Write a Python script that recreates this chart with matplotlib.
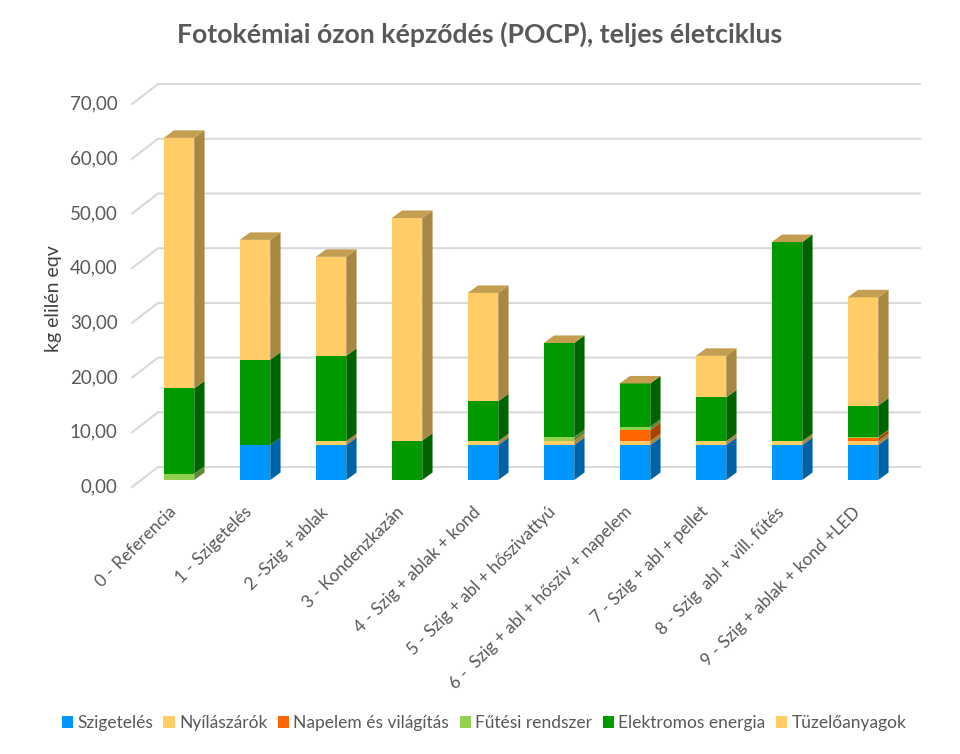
#!/usr/bin/env python3
"""Fotokemiai ozon kepzodes - stacked pseudo-3D column chart."""
import matplotlib
matplotlib.use("Agg")
import matplotlib.pyplot as plt
from matplotlib.patches import Patch
from matplotlib.transforms import ScaledTranslation
import numpy as np

plt.rcParams["font.family"] = ["Lato", "DejaVu Sans"]

categories = ["0 - Referencia", "1 - Szigetelés", "2 -Szig + ablak", "3 - Kondenzkazán",
              "4 - Szig + ablak + kond", "5 - Szig + abl + hőszivattyú",
              "6 -  Szig + abl + hősziv + napelem", "7 - Szig + abl + pellet",
              "8 - Szig  abl + vill. fűtés", "9 - Szig + ablak + kond +LED"]
szigeteles = [0, 6.4, 6.4, 0, 6.4, 6.4, 6.4, 6.4, 6.4, 6.4]
nyilaszarok = [0, 0, 0.7, 0, 0.7, 0.7, 0.7, 0.7, 0.7, 0.7]
napelem = [0, 0, 0, 0, 0, 0, 2.0, 0, 0, 0.6]
futes = [1.15, 0, 0, 0, 0, 0.75, 0.65, 0, 0, 0.1]
elektromos = [15.6, 15.6, 15.6, 7.2, 7.3, 17.2, 7.9, 8.0, 36.4, 5.8]
tuzelo = [45.8, 21.9, 18.1, 40.7, 19.8, 0, 0, 7.6, 0, 19.8]
yticks = [0, 10, 20, 30, 40, 50, 60, 70]

series = [("Szigetelés", szigeteles, "#0096FF"),
          ("Nyílászárók", nyilaszarok, "#FFCC66"),
          ("Napelem és világítás", napelem, "#FF6600"),
          ("Fűtési rendszer", futes, "#92D050"),
          ("Elektromos energia", elektromos, "#009900"),
          ("Tüzelőanyagok", tuzelo, "#FFCC66")]

GREY = "#595959"
TOP_COLOR = "#C49E50"
W, H = 960, 754
PX_X, PX_Y = 76.0, 5.47   # pixels per category / per value unit


def shade(color, k):
    r, g, b = matplotlib.colors.to_rgb(color)
    return (r * k, g * k, b * k)


fig = plt.figure(figsize=(W / 100, H / 100), dpi=100)
left, right, top, bottom = 130, 925, 80, 490
ax = fig.add_axes([left / W, 1 - bottom / H, (right - left) / W, (bottom - top) / H])
ax.set_xlim((left - 179) / PX_X, (right - 179) / PX_X)
ax.set_ylim((480 - bottom) / PX_Y, (480 - top) / PX_Y)
for s in ax.spines.values():
    s.set_visible(False)

# walls: gridlines on the back plane, short diagonal on the floor side
wall_x0, wall_x1, wall_x2 = (132 - 179) / PX_X, (158 - 179) / PX_X, (920 - 179) / PX_X
front, back = -7 / PX_Y, 13 / PX_Y
for v in yticks:
    ax.plot([wall_x0, wall_x1, wall_x2], [v + front, v + back, v + back],
            color="#D9D9D9", lw=1.5, zorder=1, solid_joinstyle="miter")

# bars, with side and top faces
width = 30.5 / PX_X
dx, dy = 10.3 / PX_X, 7.5 / PX_Y
x = np.arange(len(categories))
base = np.zeros(len(categories))
for name, vals, color in series:
    vals = np.array(vals, dtype=float)
    ax.bar(x, vals, width, bottom=base, color=color, zorder=3, linewidth=0)
    for xi, b, v in zip(x, base, vals):
        if v <= 0:
            continue
        xr = xi + width / 2
        ax.fill([xr, xr + dx, xr + dx, xr], [b, b + dy, b + v + dy, b + v],
                color=shade(color, 0.66), lw=0, zorder=3)
    base = base + vals
for xi, t in zip(x, base):
    xl, xr = xi - width / 2, xi + width / 2
    ax.fill([xl, xr, xr + dx, xl + dx], [t, t, t + dy, t + dy],
            color=TOP_COLOR, lw=0, zorder=3)

ax.set_yticks([v + front + 1.5 / PX_Y for v in yticks])
ax.set_yticklabels([f"{v:.2f}".replace(".", ",") for v in yticks],
                   fontsize=13.5, color=GREY)
ax.tick_params(axis="y", length=0, pad=9)
ax.set_xticks(x)
ax.set_xticklabels(categories, rotation=45, ha="right", rotation_mode="anchor",
                   fontsize=12.4, color=GREY)
ax.tick_params(axis="x", length=0, pad=10)
shift = ScaledTranslation(-11 / 100, 0, fig.dpi_scale_trans)
for lab in ax.get_xticklabels():
    lab.set_transform(lab.get_transform() + shift)

fig.text(54 / W, 1 - 299 / H, "kg elilén eqv", rotation=90, fontsize=14,
         color="#404040", ha="center", va="center")
fig.text(480 / W, 1 - 34 / H, "Fotokémiai ózon képződés (POCP), teljes életciklus",
         fontsize=19.2, fontweight="bold", color=GREY, ha="center", va="center")

handles = [Patch(facecolor=c, label=n) for n, _, c in series]
fig.legend(handles=handles, ncols=6, loc="center", bbox_to_anchor=(484 / W, 1 - 723 / H),
           frameon=False, fontsize=12.5, labelcolor=GREY, handlelength=0.65, handleheight=0.65,
           handletextpad=0.25, columnspacing=0.6, borderpad=0)

fig.savefig("out.png", dpi=100)
